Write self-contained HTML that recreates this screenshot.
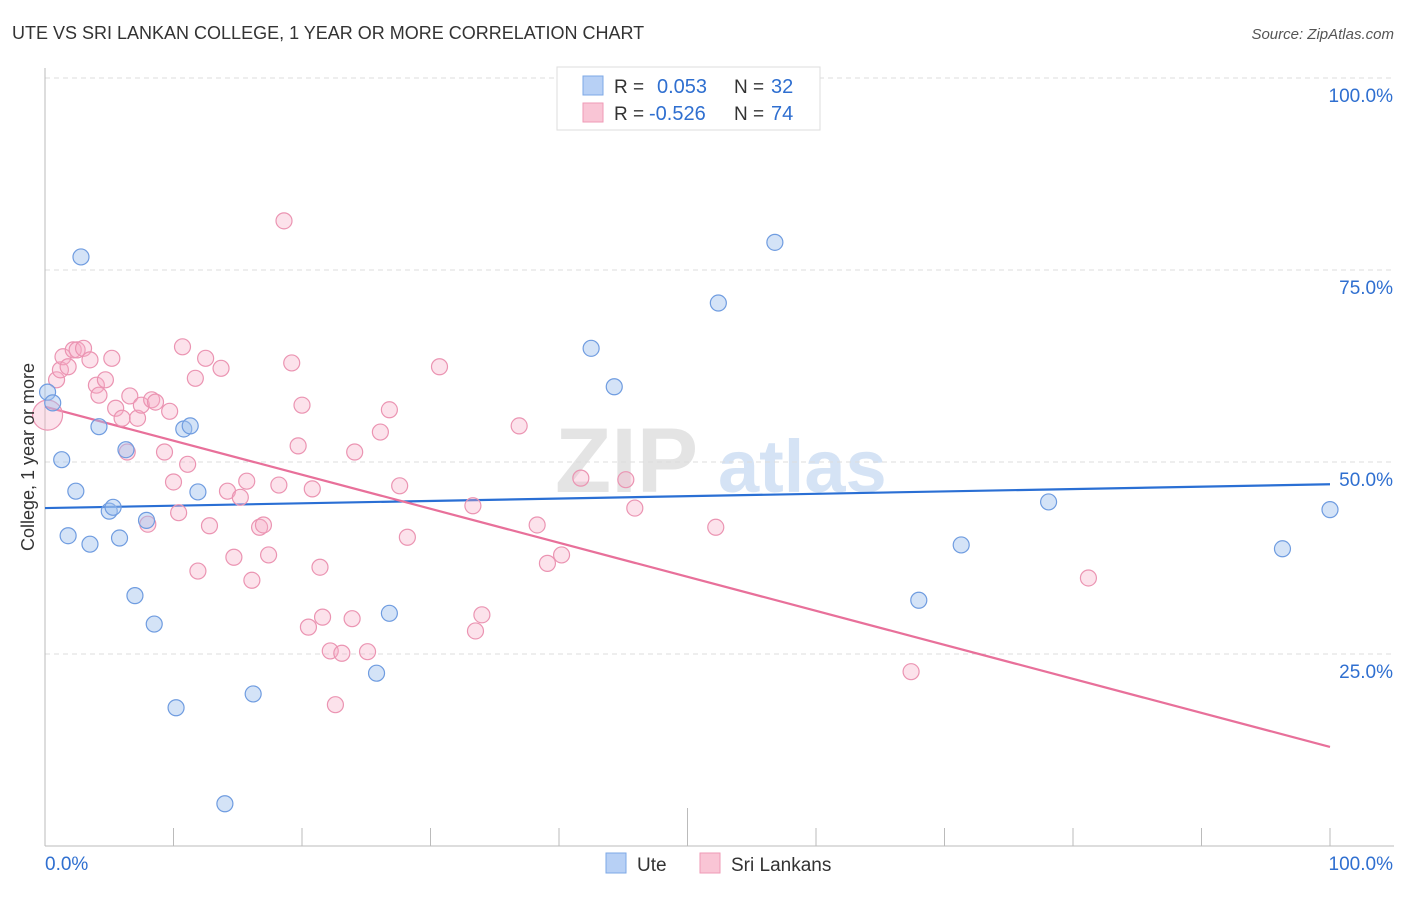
<!DOCTYPE html>
<html><head><meta charset="utf-8">
<style>
body{margin:0;background:#fff;font-family:"Liberation Sans",sans-serif;}
svg text{font-family:"Liberation Sans",sans-serif;}
</style></head>
<body>
<svg id="chart" width="1406" height="892" xmlns="http://www.w3.org/2000/svg">
<text x="12" y="39" font-size="18" fill="#333">UTE VS SRI LANKAN COLLEGE, 1 YEAR OR MORE CORRELATION CHART</text>
<text x="1394" y="39" font-size="15" fill="#555" text-anchor="end" font-style="italic">Source: ZipAtlas.com</text>
<g>
<text x="555" y="492" font-size="92" fill="#e4e4e4" font-family="Liberation Serif" font-weight="bold">ZIP</text>
<text x="718" y="492" font-size="74" fill="#d5e3f5" font-weight="bold">atlas</text>
</g>
<g id="grid"></g>
<g id="axes"></g>
<g id="lines"></g>
<g id="pts"></g>
<g>
<rect x="557" y="67" width="263" height="63" fill="#fff" stroke="#ddd"/>
<rect x="583" y="76" width="20" height="19" fill="#b7d0f5" stroke="#7ea8e6"/>
<rect x="583" y="103" width="20" height="19" fill="#f9c5d5" stroke="#ef9ab6"/>
<text x="614" y="93" font-size="19" fill="#333">R =</text>
<text x="657" y="93" font-size="20" fill="#2f6fd0">0.053</text>
<text x="734" y="93" font-size="19" fill="#333">N =</text>
<text x="771" y="93" font-size="20" fill="#2f6fd0">32</text>
<text x="614" y="120" font-size="19" fill="#333">R =</text>
<text x="649" y="120" font-size="20" fill="#2f6fd0">-0.526</text>
<text x="734" y="120" font-size="19" fill="#333">N =</text>
<text x="771" y="120" font-size="20" fill="#2f6fd0">74</text>
</g>
<g>
<rect x="606" y="853" width="20" height="20" fill="#b7d0f5" stroke="#7ea8e6"/>
<text x="637" y="871" font-size="19" fill="#333">Ute</text>
<rect x="700" y="853" width="20" height="20" fill="#f9c5d5" stroke="#ef9ab6"/>
<text x="731" y="871" font-size="19" fill="#333">Sri Lankans</text>
</g>
<text transform="translate(34,457) rotate(-90)" font-size="18" fill="#333" text-anchor="middle">College, 1 year or more</text>
</svg>
<script>
const uteX=[0.2,0.6,2.8,1.3,2.4,4.2,5.0,5.3,1.8,3.5,5.8,6.3,7.0,7.9,8.5,10.2,10.8,11.3,11.9,14.0,16.2,25.8,26.8,42.5,44.3,52.4,56.8,68.0,71.3,78.1,96.3,100];
const uteY=[59.1,57.7,76.7,50.3,46.2,54.6,43.6,44.1,40.4,39.3,40.1,51.6,32.6,42.4,28.9,18.0,54.3,54.7,46.1,5.5,19.8,22.5,30.3,64.8,59.8,70.7,78.6,32.0,39.2,44.8,38.7,43.8];
const sriX=[0.2,0.9,1.2,1.4,1.8,2.2,2.5,3.0,3.5,4.0,4.2,4.7,5.2,5.5,6.0,6.4,6.6,7.2,7.5,8.0,8.3,8.6,9.3,9.7,10.0,10.4,10.7,11.1,11.7,11.9,12.5,12.8,13.7,14.2,14.7,15.2,15.7,16.1,16.7,17.0,17.4,18.2,18.6,19.2,19.7,20.0,20.5,20.8,21.4,21.6,22.2,22.6,23.1,23.9,24.1,25.1,26.1,26.8,27.6,28.2,30.7,33.3,33.5,34.0,36.9,38.3,39.1,40.2,41.7,45.2,45.9,52.2,67.4,81.2];
const sriY=[56.1,60.7,62.0,63.7,62.4,64.6,64.6,64.8,63.3,60.0,58.7,60.7,63.5,57.0,55.7,51.3,58.6,55.7,57.4,41.9,58.1,57.8,51.3,56.6,47.4,43.4,65.0,49.7,60.9,35.8,63.5,41.7,62.2,46.2,37.6,45.4,47.5,34.6,41.5,41.8,37.9,47.0,81.4,62.9,52.1,57.4,28.5,46.5,36.3,29.8,25.4,18.4,25.1,29.6,51.3,25.3,53.9,56.8,46.9,40.2,62.4,44.3,28.0,30.1,54.7,41.8,36.8,37.9,47.9,47.7,44.0,41.5,22.7,34.9];
const trendUte=[44.0,47.1];
const trendSri=[57.2,12.9];
const yTicks=[25,50,75,100];
const yTickLabels=["25.0%","50.0%","75.0%","100.0%"];
const xTicks=[0,10,20,30,40,50,60,70,80,90,100];

const NS="http://www.w3.org/2000/svg";
const sx=v=>45+v*12.85, sy=v=>846-v*7.68;
function mk(parent,tag,attrs){const e=document.createElementNS(NS,tag);for(const k in attrs)e.setAttribute(k,attrs[k]);document.getElementById(parent).appendChild(e);return e;}
yTicks.forEach((t,i)=>{
 const l=mk('grid','line',{x1:45,x2:1394,y1:sy(t),y2:sy(t),stroke:'#ddd','stroke-dasharray':'5,4'});
 
 
 const tx=mk('axes','text',{x:1393,y:sy(t)+24,'font-size':19,fill:'#2f6fd0','text-anchor':'end'});
 tx.textContent=yTickLabels[i];
 
 
});
const ax=mk('axes','line',{x1:45,x2:1394,y1:846,y2:846,stroke:'#bbb'});


const ay=mk('axes','line',{x1:45,x2:45,y1:68,y2:846,stroke:'#bbb'});


xTicks.forEach(t=>{
 const tk=mk('axes','line',{x1:sx(t),x2:sx(t),y1:t===50?808:828,y2:846,stroke:'#bbb'});
 
 
});
const xl0=mk('axes','text',{x:45,y:870,'font-size':19,fill:'#2f6fd0'});xl0.textContent='0.0%';


const xl1=mk('axes','text',{x:1393,y:870,'font-size':19,fill:'#2f6fd0','text-anchor':'end'});xl1.textContent='100.0%';



sriX.forEach((x,i)=>{
 const c=mk('pts','circle',{cx:sx(x),cy:sy(sriY[i]),r:i===0?15:8,fill:'rgba(246,172,198,0.35)',stroke:'#eb94b2','stroke-width':1.2});
 
 
});
uteX.forEach((x,i)=>{
 const c=mk('pts','circle',{cx:sx(x),cy:sy(uteY[i]),r:8,fill:'rgba(160,192,238,0.45)',stroke:'#6f9ce0','stroke-width':1.2});
 
 
});
const lu=mk('lines','line',{x1:sx(0),y1:sy(trendUte[0]),x2:sx(100),y2:sy(trendUte[1]),stroke:'#2a6fd4','stroke-width':2.2});


const ls=mk('lines','line',{x1:sx(0),y1:sy(trendSri[0]),x2:sx(100),y2:sy(trendSri[1]),stroke:'#e8709a','stroke-width':2.2});


</script>
</body></html>
